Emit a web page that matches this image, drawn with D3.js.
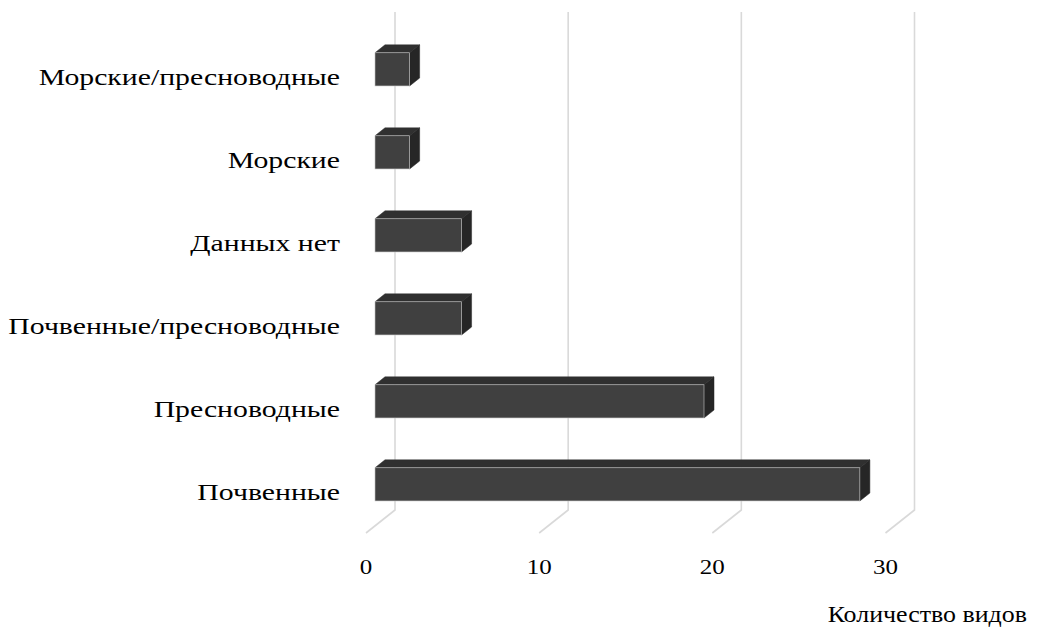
<!DOCTYPE html>
<html>
<head>
<meta charset="utf-8">
<script src="https://cdn.jsdelivr.net/npm/d3@7"></script>
<style>
  html, body { margin: 0; padding: 0; background: #fff; }
  svg text { font-family: "Liberation Serif", "Times New Roman", serif; fill: #000; }
</style>
</head>
<body>
<svg id="chart" width="1059" height="627"></svg>
<script>
// Species counts by habitat (top to bottom as displayed)
const categories = [
  "Морские/пресноводные",
  "Морские",
  "Данных нет",
  "Почвенные/пресноводные",
  "Пресноводные",
  "Почвенные"
];
const speciesCounts = [2, 2, 5, 5, 19, 28];
const tickValues = [0, 10, 20, 30];
const axisTitle = "Количество видов";

const svg = d3.select("#chart");

// Back-wall projection plane; depth is drawn as an oblique offset
const x = d3.scaleLinear().domain([0, 30]).range([395, 914.5]);
const y = d3.scaleBand().domain(categories).range([12, 510])
  .paddingInner(0.6).paddingOuter(0.3);

const depth = { dx: -29, dy: 23 };           // full floor depth offset
const barNear = 0.69, barFar = 0.345;         // bar depth span (fraction of floor)
const off = t => [depth.dx * t, depth.dy * t];

// Text is set in a horizontally widened serif face
const wideCat = 1.24, wideTick = 1.25, wideTitle = 1.08;

// Gridlines: vertical on the back wall, then slanting across the floor
const grid = svg.append("g");
tickValues.forEach(v => {
  const gx = x(v);
  grid.append("path")
    .attr("d", `M${gx},${y.range()[0]} L${gx},${y.range()[1]} L${gx + depth.dx},${y.range()[1] + depth.dy}`)
    .attr("fill", "none")
    .attr("stroke", "#d9d9d9")
    .attr("stroke-width", 1.6);
});

// 3D bars: top face, right face, front face
const bars = svg.append("g");
categories.forEach((c, i) => {
  const v = speciesCounts[i];
  const [fx, fy] = off(barNear);
  const [bx, by] = off(barFar);
  const x0 = x(0), x1 = x(v);
  const top = y(c), bot = y(c) + y.bandwidth();

  const g = bars.append("g");
  // top face
  g.append("path")
    .attr("d", `M${x0 + fx},${top + fy} L${x0 + bx},${top + by} L${x1 + bx},${top + by} L${x1 + fx},${top + fy} Z`)
    .attr("fill", "#303030")
    .attr("stroke", "#303030").attr("stroke-width", 0.5);
  // right face
  g.append("path")
    .attr("d", `M${x1 + fx},${top + fy} L${x1 + bx},${top + by} L${x1 + bx},${bot + by} L${x1 + fx},${bot + fy} Z`)
    .attr("fill", "#262626")
    .attr("stroke", "#262626").attr("stroke-width", 0.5);
  // front face
  g.append("rect")
    .attr("x", x0 + fx)
    .attr("y", top + fy)
    .attr("width", x1 - x0)
    .attr("height", bot - top)
    .attr("fill", "#404040")
    .attr("stroke", "#c8c8c8").attr("stroke-width", 0.6);
});

// Category labels, aligned with the floor front edge
svg.append("g").selectAll("text")
  .data(categories)
  .join("text")
  .attr("transform", d => `translate(340,${y(d) + y.bandwidth() / 2 + depth.dy + 8}) scale(${wideCat},1)`)
  .attr("text-anchor", "end")
  .attr("font-size", 24)
  .text(d => d);

// Value tick labels along the front edge of the floor
svg.append("g").selectAll("text")
  .data(tickValues)
  .join("text")
  .attr("transform", d => `translate(${x(d) + depth.dx},574) scale(${wideTick},1)`)
  .attr("text-anchor", "middle")
  .attr("font-size", 20)
  .text(d => d);

// Axis title
svg.append("text")
  .attr("transform", `translate(1027,622) scale(${wideTitle},1)`)
  .attr("text-anchor", "end")
  .attr("font-size", 24)
  .text(axisTitle);
</script>
</body>
</html>
